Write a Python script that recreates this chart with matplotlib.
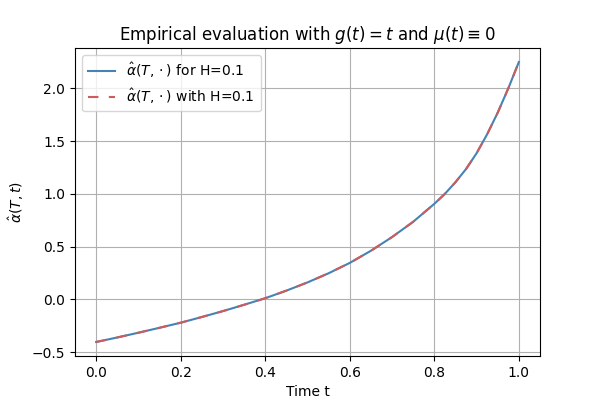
import matplotlib
matplotlib.use("Agg")
import matplotlib.pyplot as plt
import numpy as np

# values
time_t = [0.0, 0.05, 0.1, 0.15, 0.2, 0.25, 0.3, 0.35, 0.4, 0.45, 0.5, 0.55,
          0.6, 0.65, 0.7, 0.75, 0.8, 0.825, 0.85, 0.875, 0.9, 0.925, 0.95,
          0.975, 1.0]
alpha_emp = [-0.405, -0.362, -0.317, -0.27, -0.222, -0.168, -0.112, -0.052,
             0.01, 0.082, 0.16, 0.247, 0.345, 0.46, 0.59, 0.735, 0.905,
             1.0, 1.11, 1.235, 1.385, 1.565, 1.77, 2.0, 2.25]
alpha_theo = list(alpha_emp)

fig, ax = plt.subplots(figsize=(6, 4), dpi=100)
ax.plot(time_t, alpha_emp, color="steelblue", lw=1.5,
        label=r"$\hat{\alpha}(T,\cdot)$ for H=0.1")
ax.plot(time_t, alpha_theo, color="indianred", lw=1.5, ls=(0, (5, 5)),
        label=r"$\hat{\alpha}(T,\cdot)$ with H=0.1")
ax.set_title(r"Empirical evaluation with $g(t) = t$ and $\mu(t) \equiv 0$")
ax.set_xlabel("Time t")
ax.set_ylabel(r"$\hat{\alpha}(T,t)$")
ax.grid(True)
ax.legend(loc="upper left")
fig.subplots_adjust(left=0.125, right=0.9, bottom=0.11, top=0.88)
fig.savefig("out.png")
